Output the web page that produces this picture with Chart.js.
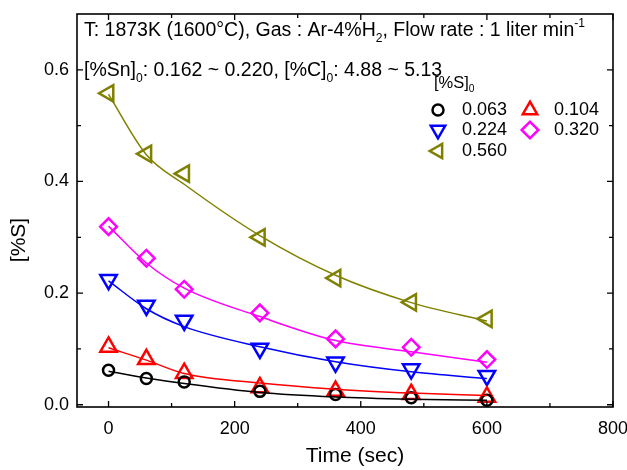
<!DOCTYPE html>
<html>
<head>
<meta charset="utf-8">
<script src="https://cdn.jsdelivr.net/npm/chart.js@4.4.1/dist/chart.umd.min.js"></script>
<style>
  body { margin: 0; background: #fff; }
  canvas { display: block; }
</style>
</head>
<body>
<canvas id="chart" width="627" height="470"></canvas>
<script>
// measured points
const times = [0, 60, 120, 240, 360, 480, 600];
const s063 = [0.062, 0.047, 0.041, 0.024, 0.0185, 0.0125, 0.008];
const s104 = [0.1035, 0.0814, 0.0565, 0.031, 0.0246, 0.019, 0.014];
const s224 = [0.224, 0.178, 0.151, 0.101, 0.076, 0.064, 0.052];
const s320 = [0.319, 0.2625, 0.207, 0.1645, 0.118, 0.103, 0.081];
const s560 = [0.558, 0.4495, 0.414, 0.300, 0.227, 0.1835, 0.154];

// fitted curves
const fit063 = [0.060, 0.048, 0.038, 0.022, 0.014, 0.010, 0.008];
const fit104 = [0.102, 0.080, 0.056, 0.039, 0.028, 0.021, 0.0165];
const fit224 = [0.222, 0.172, 0.140, 0.104, 0.077, 0.059, 0.047];
const fit320 = [0.320, 0.254, 0.209, 0.158, 0.115, 0.095, 0.076];
const fit560 = [0.556, 0.448, 0.395, 0.303, 0.232, 0.183, 0.150];

const legendLabels = ["0.063", "0.104", "0.224", "0.320", "0.560"];
const xTicks = [0, 200, 400, 600, 800];
const xMinor = [100, 300, 500, 700];
const yTicks = [0, 0.2, 0.4, 0.6];
const yMinor = [0.1, 0.3, 0.5];

const FONT = "'Liberation Sans', Arial, sans-serif";

function pts(arr) {
    return times.map((t, i) => ({ x: t, y: arr[i] }));
}

function fitSet(arr, color) {
    return {
        data: pts(arr), showLine: true, borderColor: color, borderWidth: 1.5,
        pointRadius: 0, pointHoverRadius: 0, cubicInterpolationMode: "monotone", fill: false
    };
}

function markSet(arr, color, style, rot, r) {
    return {
        data: pts(arr), showLine: false, borderColor: color, backgroundColor: "rgba(0,0,0,0)",
        pointStyle: style, rotation: rot, pointRadius: r, pointHoverRadius: r, borderWidth: 2.5
    };
}

const markers = [
    markSet(s063, "#000000", "circle", 0, 5.5),
    markSet(s104, "#ff0000", "triangle", 0, 9.5),
    markSet(s224, "#0000ff", "triangle", 180, 9.5),
    markSet(s320, "#ff00ff", "rectRot", 0, 8.3),
    markSet(s560, "#808000", "triangle", 270, 9.5)
];

// draw text runs with sub / superscripts
function drawRuns(ctx, x, y, runs, size) {
    ctx.textBaseline = "middle";
    ctx.textAlign = "left";
    for (const [txt, mode] of runs) {
        let fs = size, dy = 0;
        if (mode === "sub") { fs = size * 0.62; dy = size * 0.38; }
        if (mode === "sup") { fs = size * 0.62; dy = -size * 0.38; }
        ctx.font = fs + "px " + FONT;
        ctx.fillText(txt, x, y + dy);
        x += ctx.measureText(txt).width;
    }
}

const framePlugin = {
    id: "frame",
    afterDraw(chart) {
        const { ctx, chartArea: a, scales } = chart;
        const xs = scales.x, ys = scales.y;
        ctx.save();
        ctx.strokeStyle = "#000";
        ctx.lineWidth = 1.6;
        ctx.strokeRect(a.left, a.top, a.right - a.left, a.bottom - a.top);
        ctx.lineWidth = 1.3;
        ctx.beginPath();
        const tickX = (vals, len) => vals.forEach(v => {
            const px = xs.getPixelForValue(v);
            ctx.moveTo(px, a.bottom); ctx.lineTo(px, a.bottom - len);
            ctx.moveTo(px, a.top); ctx.lineTo(px, a.top + len);
        });
        const tickY = (vals, len) => vals.forEach(v => {
            const py = ys.getPixelForValue(v);
            ctx.moveTo(a.left, py); ctx.lineTo(a.left + len, py);
            ctx.moveTo(a.right, py); ctx.lineTo(a.right - len, py);
        });
        tickX(xTicks, 6); tickX(xMinor, 4);
        tickY(yTicks, 6); tickY(yMinor, 4);
        ctx.stroke();

        ctx.fillStyle = "#000";
        // axis titles
        ctx.font = "21px " + FONT;
        ctx.textAlign = "center";
        ctx.textBaseline = "middle";
        ctx.fillText("Time (sec)", 355, 456);
        ctx.save();
        ctx.translate(19, 240);
        ctx.rotate(-Math.PI / 2);
        ctx.fillText("[%S]", 0, 0);
        ctx.restore();

        // header text
        drawRuns(ctx, 84, 31, [["T: 1873K (1600\u00B0C), Gas : Ar-4%H", ""], ["2", "sub"],
            [", Flow rate : 1 liter min", ""], ["-1", "sup"]], 19.5);
        drawRuns(ctx, 84, 71, [["[%Sn]", ""], ["0", "sub"], [": 0.162 ~ 0.220, [%C]", ""],
            ["0", "sub"], [": 4.88 ~ 5.13", ""]], 19.5);

        // legend
        drawRuns(ctx, 434, 83, [["[%S]", ""], ["0", "sub"]], 16.5);
        const slots = [[438, 110], [530, 110], [438, 130], [530, 130], [438, 151]];
        markers.forEach((ds, i) => {
            const [mx, my] = slots[i];
            ctx.strokeStyle = ds.borderColor;
            ctx.fillStyle = "rgba(0,0,0,0)";
            ctx.lineWidth = ds.borderWidth;
            Chart.helpers.drawPoint(ctx, {
                pointStyle: ds.pointStyle, rotation: ds.rotation,
                radius: ds.pointStyle === "circle" ? 5.5 : 8.3, borderWidth: ds.borderWidth
            }, mx, my);
            ctx.fillStyle = "#000";
            drawRuns(ctx, mx + 24, my, [[legendLabels[i], ""]], 18);
        });
        ctx.restore();
    }
};

new Chart(document.getElementById("chart"), {
    type: "scatter",
    data: {
        datasets: [
            fitSet(fit063, "#000000"),
            fitSet(fit104, "#ff0000"),
            fitSet(fit224, "#0000ff"),
            fitSet(fit320, "#ff00ff"),
            fitSet(fit560, "#808000"),
            ...markers
        ]
    },
    options: {
        responsive: false,
        animation: false,
        layout: { padding: { left: 0, right: 14, top: 14, bottom: 0 } },
        plugins: { legend: { display: false }, tooltip: { enabled: false } },
        scales: {
            x: {
                type: "linear", min: -50, max: 800,
                afterBuildTicks: s => { s.ticks = xTicks.map(v => ({ value: v })); },
                afterFit: s => { s.height = 63; s.paddingLeft = 0; s.paddingRight = 0; },
                grid: { display: false, drawTicks: false },
                border: { display: false },
                ticks: { color: "#000", font: { family: FONT, size: 18 }, padding: 11, maxRotation: 0 }
            },
            y: {
                type: "linear", min: -0.004, max: 0.7,
                afterBuildTicks: s => { s.ticks = yTicks.map(v => ({ value: v })); },
                afterFit: s => { s.width = 77; s.paddingTop = 0; s.paddingBottom = 0; },
                grid: { display: false, drawTicks: false },
                border: { display: false },
                ticks: { color: "#000", font: { family: FONT, size: 18 }, padding: 8,
                         callback: v => v.toFixed(1) }
            }
        }
    },
    plugins: [framePlugin]
});
</script>
</body>
</html>
